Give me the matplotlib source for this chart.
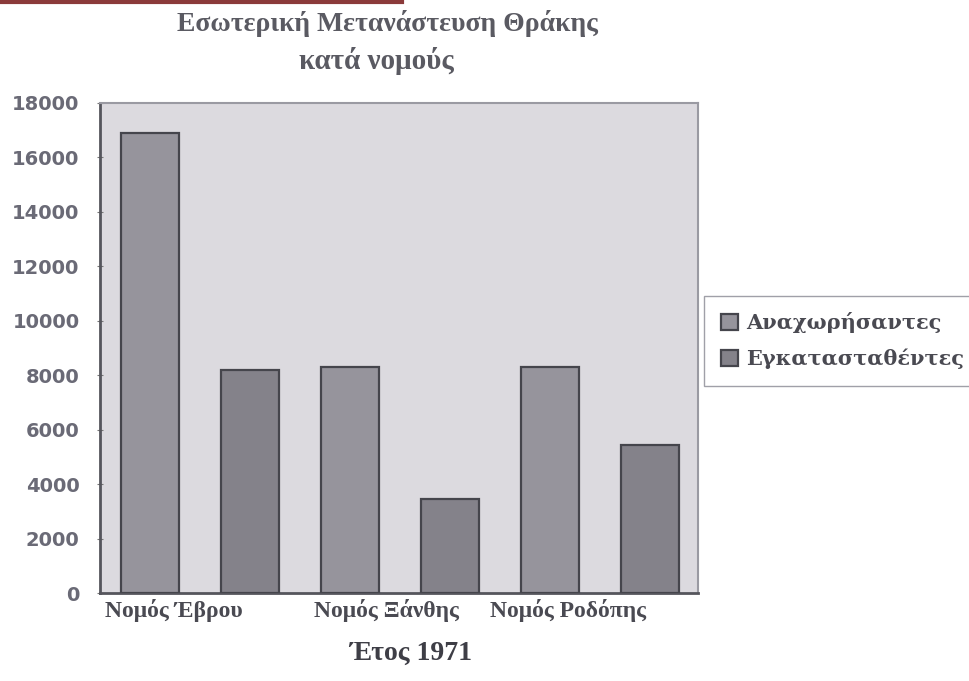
import matplotlib.pyplot as plt
import numpy as np

categories = ['Νομός Έβρου', 'Νομός Ξάνθης', 'Νομός Ροδόπης']
departed = [16900, 8300, 8300]
settled = [8200, 3450, 5450]
seriesNames = ['Αναχωρήσαντες', 'Εγκατασταθέντες']
yTicks = [0, 2000, 4000, 6000, 8000, 10000, 12000, 14000, 16000, 18000]

serifFamily = ['Liberation Serif', 'DejaVu Serif']
sansFamily = ['DejaVu Sans']
textColor = '#4a4a52'
# the scanned category labels sit a little left of the group centres
labelShift = np.array([-0.13, -0.065, -0.16])

plt.rcParams['font.family'] = serifFamily

figure = plt.figure(figsize = (9.69, 6.81), dpi = 100)
axes = figure.add_axes([0.103, 0.129, 0.617, 0.72])
axes.set_facecolor('#dcdadf')

x = np.arange(len(categories))
axes.bar(x - 0.25, departed, width = 0.29, color = '#96949c', edgecolor = '#45454c', linewidth = 1.6, label = seriesNames[0], zorder = 3)
axes.bar(x + 0.25, settled, width = 0.29, color = '#84828a', edgecolor = '#45454c', linewidth = 1.6, label = seriesNames[1], zorder = 3)

axes.set_xlim(-0.5, 2.49)
axes.set_ylim(0, 18000)
axes.set_yticks(yTicks)
axes.set_yticklabels([str(t) for t in yTicks], family = sansFamily, fontsize = 14, fontweight = 'bold', color = '#6a6a76')
axes.set_xticks(x + labelShift)
axes.set_xticklabels(categories, fontsize = 17, fontweight = 'bold', color = textColor)
axes.tick_params(axis = 'x', length = 0, pad = 4)
axes.tick_params(axis = 'y', length = 5, direction = 'inout', color = '#777', pad = 12)

for side in ['left', 'bottom']:
    axes.spines[side].set_color('#55555c')
    axes.spines[side].set_linewidth(2)
for side in ['top', 'right']:
    axes.spines[side].set_color('#9a9aa2')
    axes.spines[side].set_linewidth(1.5)

axes.set_xlabel('Έτος 1971', fontsize = 20, fontweight = 'bold', color = '#3e3e46', labelpad = 14, x = 0.52)

figure.text(0.400, 0.965, 'Εσωτερική Μετανάστευση Θράκης', ha = 'center', va = 'center', fontsize = 20, fontweight = 'bold', color = '#5a5a62')
figure.text(0.388, 0.91, 'κατά νομούς', ha = 'center', va = 'center', fontsize = 21, fontweight = 'bold', color = '#5a5a62')

legend = axes.legend(loc = 'upper left', bbox_to_anchor = (0.727, 0.566), bbox_transform = figure.transFigure,
                     fancybox = False, framealpha = 1.0, frameon = True, handlelength = 0.8, handleheight = 0.8,
                     prop = {'family': 'DejaVu Serif', 'size': 15, 'weight': 'bold'},
                     handletextpad = 0.4, labelspacing = 0.75, borderpad = 0.8, borderaxespad = 0)
legend.get_frame().set_edgecolor('#a0a0a8')
for t in legend.get_texts():
    t.set_color('#4a4a52')

figure.add_artist(plt.Line2D([0, 0.415], [0.997, 0.997], color = '#8b3a3a', linewidth = 3, transform = figure.transFigure))

plt.savefig('out.png', dpi = 100)
